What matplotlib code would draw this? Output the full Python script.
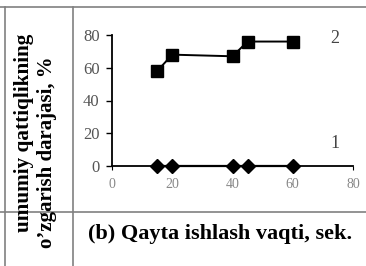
import matplotlib.pyplot as plt
from matplotlib.lines import Line2D

# data
time_s = [15, 20, 40, 45, 60]
series1 = [0, 0, 0, 0, 0]
series2 = [58, 68, 67, 76, 76]
xticks = [0, 20, 40, 60, 80]
yticks = [0, 20, 40, 60, 80]

W, H = 366, 266
fig = plt.figure(figsize=(W / 100, H / 100), dpi=100)
fig.patch.set_facecolor('white')

ax = fig.add_axes([112 / W, 100 / H, 241 / W, 131 / H])
ax.plot(time_s, series2, color='black', lw=1.4, marker='s', ms=8.5, clip_on=False)
ax.plot(time_s, series1, color='black', lw=1.6, marker='D', ms=7, clip_on=False)
ax.set_xlim(0, 80)
ax.set_ylim(0, 80)
ax.set_xticks(xticks)
ax.set_yticks(yticks)
for s in ['top', 'right']:
    ax.spines[s].set_visible(False)
for s in ['left', 'bottom']:
    ax.spines[s].set_linewidth(1.3)
ax.tick_params(axis='y', length=4, width=1, labelsize=12, labelcolor='#555555', pad=5)
ax.tick_params(axis='x', length=3, width=0.8, labelsize=10, labelcolor='#888888', pad=6)
for lab in ax.get_xticklabels() + ax.get_yticklabels():
    lab.set_family('Liberation Serif')
ax.text(74, 78, '2', fontsize=13, family='Liberation Serif', color='#444444', ha='center', va='center')
ax.text(74, 14, '1', fontsize=13, family='Liberation Serif', color='#444444', ha='center', va='center')

# table cell lines
gray = '#808080'
def hline(y, x0, x1):
    fig.add_artist(Line2D([x0 / W, x1 / W], [1 - y / H, 1 - y / H], color=gray, lw=1.2))
def vline(x, y0, y1):
    fig.add_artist(Line2D([x / W, x / W], [1 - y0 / H, 1 - y1 / H], color=gray, lw=1.2))
hline(7, 0, 366)
hline(212, 0, 366)
vline(5, 7, 266)
vline(73, 7, 266)

# labels
fig.text(24 / W, 1 - 133 / H, 'umumiy qattiqlikning', rotation=90, family='Liberation Serif',
         fontweight='bold', fontsize=15.3, ha='center', va='center')
fig.text(47 / W, 1 - 152 / H, 'o\u02bczgarish darajasi, %', rotation=90, family='Liberation Serif',
         fontweight='bold', fontsize=15, ha='center', va='center')
fig.text(220 / W, 1 - 234 / H, '(b) Qayta ishlash vaqti, sek.', family='Liberation Serif',
         fontweight='bold', fontsize=16, ha='center', va='center')

fig.savefig('out.png', dpi=100)
